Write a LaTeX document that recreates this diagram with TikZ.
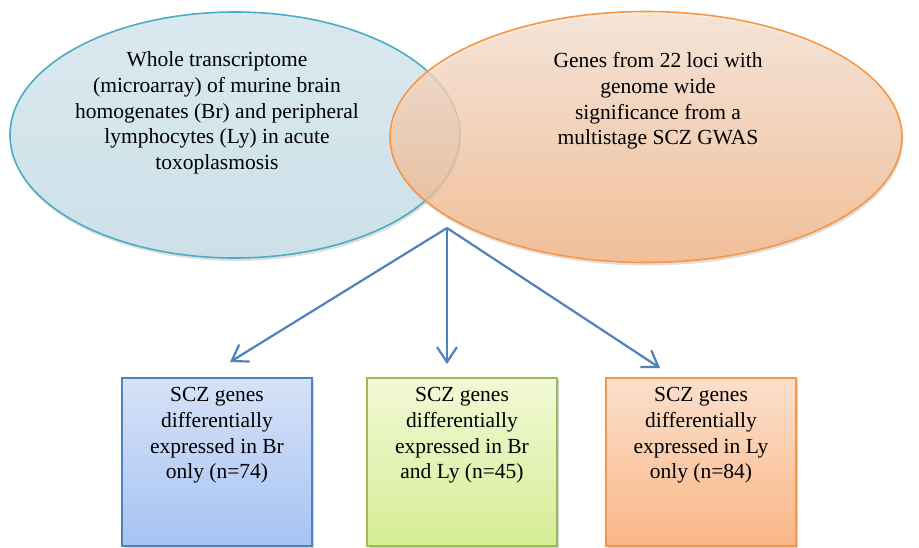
\documentclass[tikz,border=0pt]{standalone}
\usepackage{fontspec}
\setmainfont{Liberation Serif}
\usepackage{tikz}
\usetikzlibrary{arrows.meta,calc,positioning,shadows,shapes.geometric}
\definecolor{accblue}{RGB}{79,129,189}
\definecolor{accteal}{RGB}{75,172,198}
\definecolor{accorange}{RGB}{247,150,70}
\definecolor{accgreen}{RGB}{155,187,89}
\tikzstyle{venn}=[
  ellipse,
  inner sep=0pt,
  outer sep=0pt,
  line width=1.6pt,
  drop shadow={shadow xshift=1pt,shadow yshift=-3pt,opacity=.25},
]
\tikzstyle{result}=[
  rectangle,
  inner sep=0pt,
  outer sep=0pt,
  line width=1.6pt,
  minimum width=190pt,
  minimum height=168pt,
  anchor=north,
  drop shadow={shadow xshift=2pt,shadow yshift=-2pt,opacity=.35},
]
\tikzstyle{label}=[
  align=center,
  font={\fontsize{21.5}{25.8}\selectfont},
  inner sep=0pt,
]
\tikzstyle{arrow}=[
  color=accblue,
  line width=2.2pt,
  ->,
]
\tikzset{
  >={Straight Barb[length=15pt,width=20pt]},
}
\begin{document}
\begin{tikzpicture}[x=1pt,y=-1pt]
  \useasboundingbox (0,0) rectangle (919,547);
  % the two gene sets
  \node (brain) [venn, draw=accteal, top color={rgb,255:red,218;green,233;blue,239},
    bottom color={rgb,255:red,205;green,224;blue,232},
    minimum width=450pt, minimum height=246pt] at (235,135) {};
  \node (gwas) [venn, draw=accorange, top color={rgb,255:red,251;green,230;blue,214},
    bottom color={rgb,255:red,248;green,180;blue,130},
    fill opacity=.75, minimum width=512pt, minimum height=251pt] at (646,137) {};
  \node (braintext) [label] at (217,113) {Whole transcriptome\\(microarray) of murine brain\\homogenates (Br) and peripheral\\lymphocytes (Ly) in acute\\toxoplasmosis};
  \node (gwastext) [label] at (658,101) {Genes from 22 loci with\\genome wide\\significance from a\\multistage SCZ GWAS};
  % overlap result
  \node (bronly) [result, draw=accblue, top color={rgb,255:red,214;green,226;blue,248},
    bottom color={rgb,255:red,166;green,195;blue,243}] at (217,378) {};
  \node (both) [result, draw=accgreen, top color={rgb,255:red,242;green,249;blue,214},
    bottom color={rgb,255:red,213;green,236;blue,148}] at (462,378) {};
  \node (lyonly) [result, draw=accorange, top color={rgb,255:red,252;green,224;blue,204},
    bottom color={rgb,255:red,249;green,182;blue,134}] at (701,378) {};
  \node (brtext) [label, anchor=north] at ($(bronly.north)+(0,9)$) {SCZ genes\\differentially\\expressed in Br\\only (n=74)};
  \node (bothtext) [label, anchor=north] at ($(both.north)+(0,9)$) {SCZ genes\\differentially\\expressed in Br\\and Ly (n=45)};
  \node (lytext) [label, anchor=north] at ($(lyonly.north)+(0,9)$) {SCZ genes\\differentially\\expressed in Ly\\only (n=84)};
  \coordinate (split) at (447,228);
  \draw [arrow] (split) -- ($(bronly.north)+(13,-16)$);
  \draw [arrow] (split) -- ($(both.north)+(-15,-14)$);
  \draw [arrow] (split) -- ($(lyonly.north)+(-41,-10)$);
\end{tikzpicture}
\end{document}
